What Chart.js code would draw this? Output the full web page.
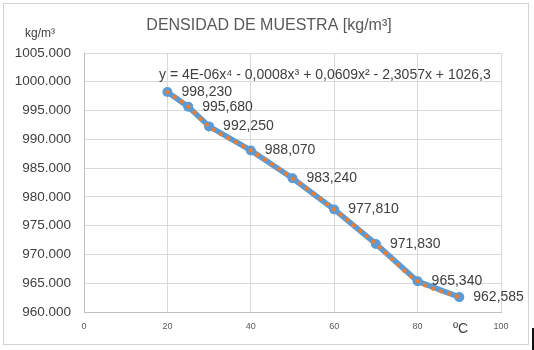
<!DOCTYPE html>
<html>
<head>
<meta charset="utf-8">
<script src="https://cdn.jsdelivr.net/npm/chart.js@4.4.1/dist/chart.umd.min.js"></script>
<style>
  html, body { margin: 0; padding: 0; background: #fff; }
  #wrap { position: relative; width: 534px; height: 350px; }
</style>
</head>
<body>
<div id="wrap"><canvas id="densChart" width="534" height="350"></canvas></div>
<script>
// temperatures (ºC) and density (kg/m³)
const temps = [20, 25, 30, 40, 50, 60, 70, 80, 90];
const density = [998.230, 995.680, 992.250, 988.070, 983.240, 977.810, 971.830, 965.340, 962.585];
const xTicks = [0, 20, 40, 60, 80, 100];
const yTicks = [960, 965, 970, 975, 980, 985, 990, 995, 1000, 1005];

const chartTitle = 'DENSIDAD DE MUESTRA [kg/m³]';
const yUnit = 'kg/m³';
const xUnit = 'ºC';
const trendText = 'y = 4E-06x⁴ - 0,0008x³ + 0,0609x² - 2,3057x + 1026,3';

const points = temps.map((t, i) => ({ x: t, y: density[i] }));

const FONT = "'Liberation Sans', Arial, sans-serif";

const decorations = {
  id: 'decorations',
  afterDraw(chart) {
    const ctx = chart.ctx;
    ctx.save();
    // outer frame
    ctx.strokeStyle = '#d4d4d4';
    ctx.lineWidth = 1;
    ctx.strokeRect(3.5, 3.5, 525, 341);
    ctx.fillStyle = '#111';
    ctx.fillRect(532, 328, 2, 22);

    ctx.textBaseline = 'middle';
    ctx.fillStyle = '#595959';
    ctx.font = '16px ' + FONT;
    ctx.textAlign = 'center';
    ctx.fillText(chartTitle, 269, 26);

    ctx.font = '12px ' + FONT;
    ctx.fillStyle = '#404040';
    ctx.fillText(yUnit, 40, 34);

    ctx.textAlign = 'left';
    ctx.font = '14px ' + FONT;
    ctx.fillText(xUnit, 453, 329);

    ctx.fillText(trendText, 159, 75);

    // value labels next to each point
    const meta = chart.getDatasetMeta(0);
    meta.data.forEach((pt, i) => {
      const label = density[i].toFixed(3).replace('.', ',');
      ctx.fillText(label, pt.x + 14, pt.y);
    });
    ctx.restore();
  }
};

new Chart(document.getElementById('densChart').getContext('2d'), {
  type: 'scatter',
  data: {
    datasets: [
      {
        label: 'Densidad',
        data: points,
        showLine: true,
        borderColor: '#5b9bd5',
        backgroundColor: '#5b9bd5',
        borderWidth: 5.5,
        pointRadius: 5,
        pointBorderWidth: 0,
        order: 2
      },
      {
        label: 'Polinómica',
        data: points,
        showLine: true,
        borderColor: '#ed7d31',
        borderWidth: 4,
        borderDash: [0.5, 8],
        borderCapStyle: 'round',
        cubicInterpolationMode: 'monotone',
        pointRadius: 0,
        order: 1
      }
    ]
  },
  options: {
    responsive: false,
    animation: false,
    layout: { padding: { top: 53, right: 33, bottom: 0, left: 0 } },
    plugins: {
      legend: { display: false },
      tooltip: { enabled: false },
      title: { display: false }
    },
    scales: {
      x: {
        type: 'linear',
        min: 0,
        max: 100,
        afterBuildTicks: s => { s.ticks = xTicks.map(v => ({ value: v })); },
        afterFit: s => { s.height = 38; },
        grid: { color: '#d9d9d9', drawTicks: false },
        border: { color: '#bfbfbf' },
        ticks: { color: '#595959', padding: 9, font: { family: FONT, size: 9 } }
      },
      y: {
        type: 'linear',
        min: 960,
        max: 1005,
        afterBuildTicks: s => { s.ticks = yTicks.map(v => ({ value: v })); },
        afterFit: s => { s.width = 84; },
        grid: { color: '#d9d9d9', drawTicks: false },
        border: { color: '#bfbfbf' },
        ticks: {
          color: '#404040',
          padding: 13,
          font: { family: FONT, size: 13.5 },
          callback: v => v.toFixed(3)
        }
      }
    }
  },
  plugins: [decorations]
});
</script>
</body>
</html>
